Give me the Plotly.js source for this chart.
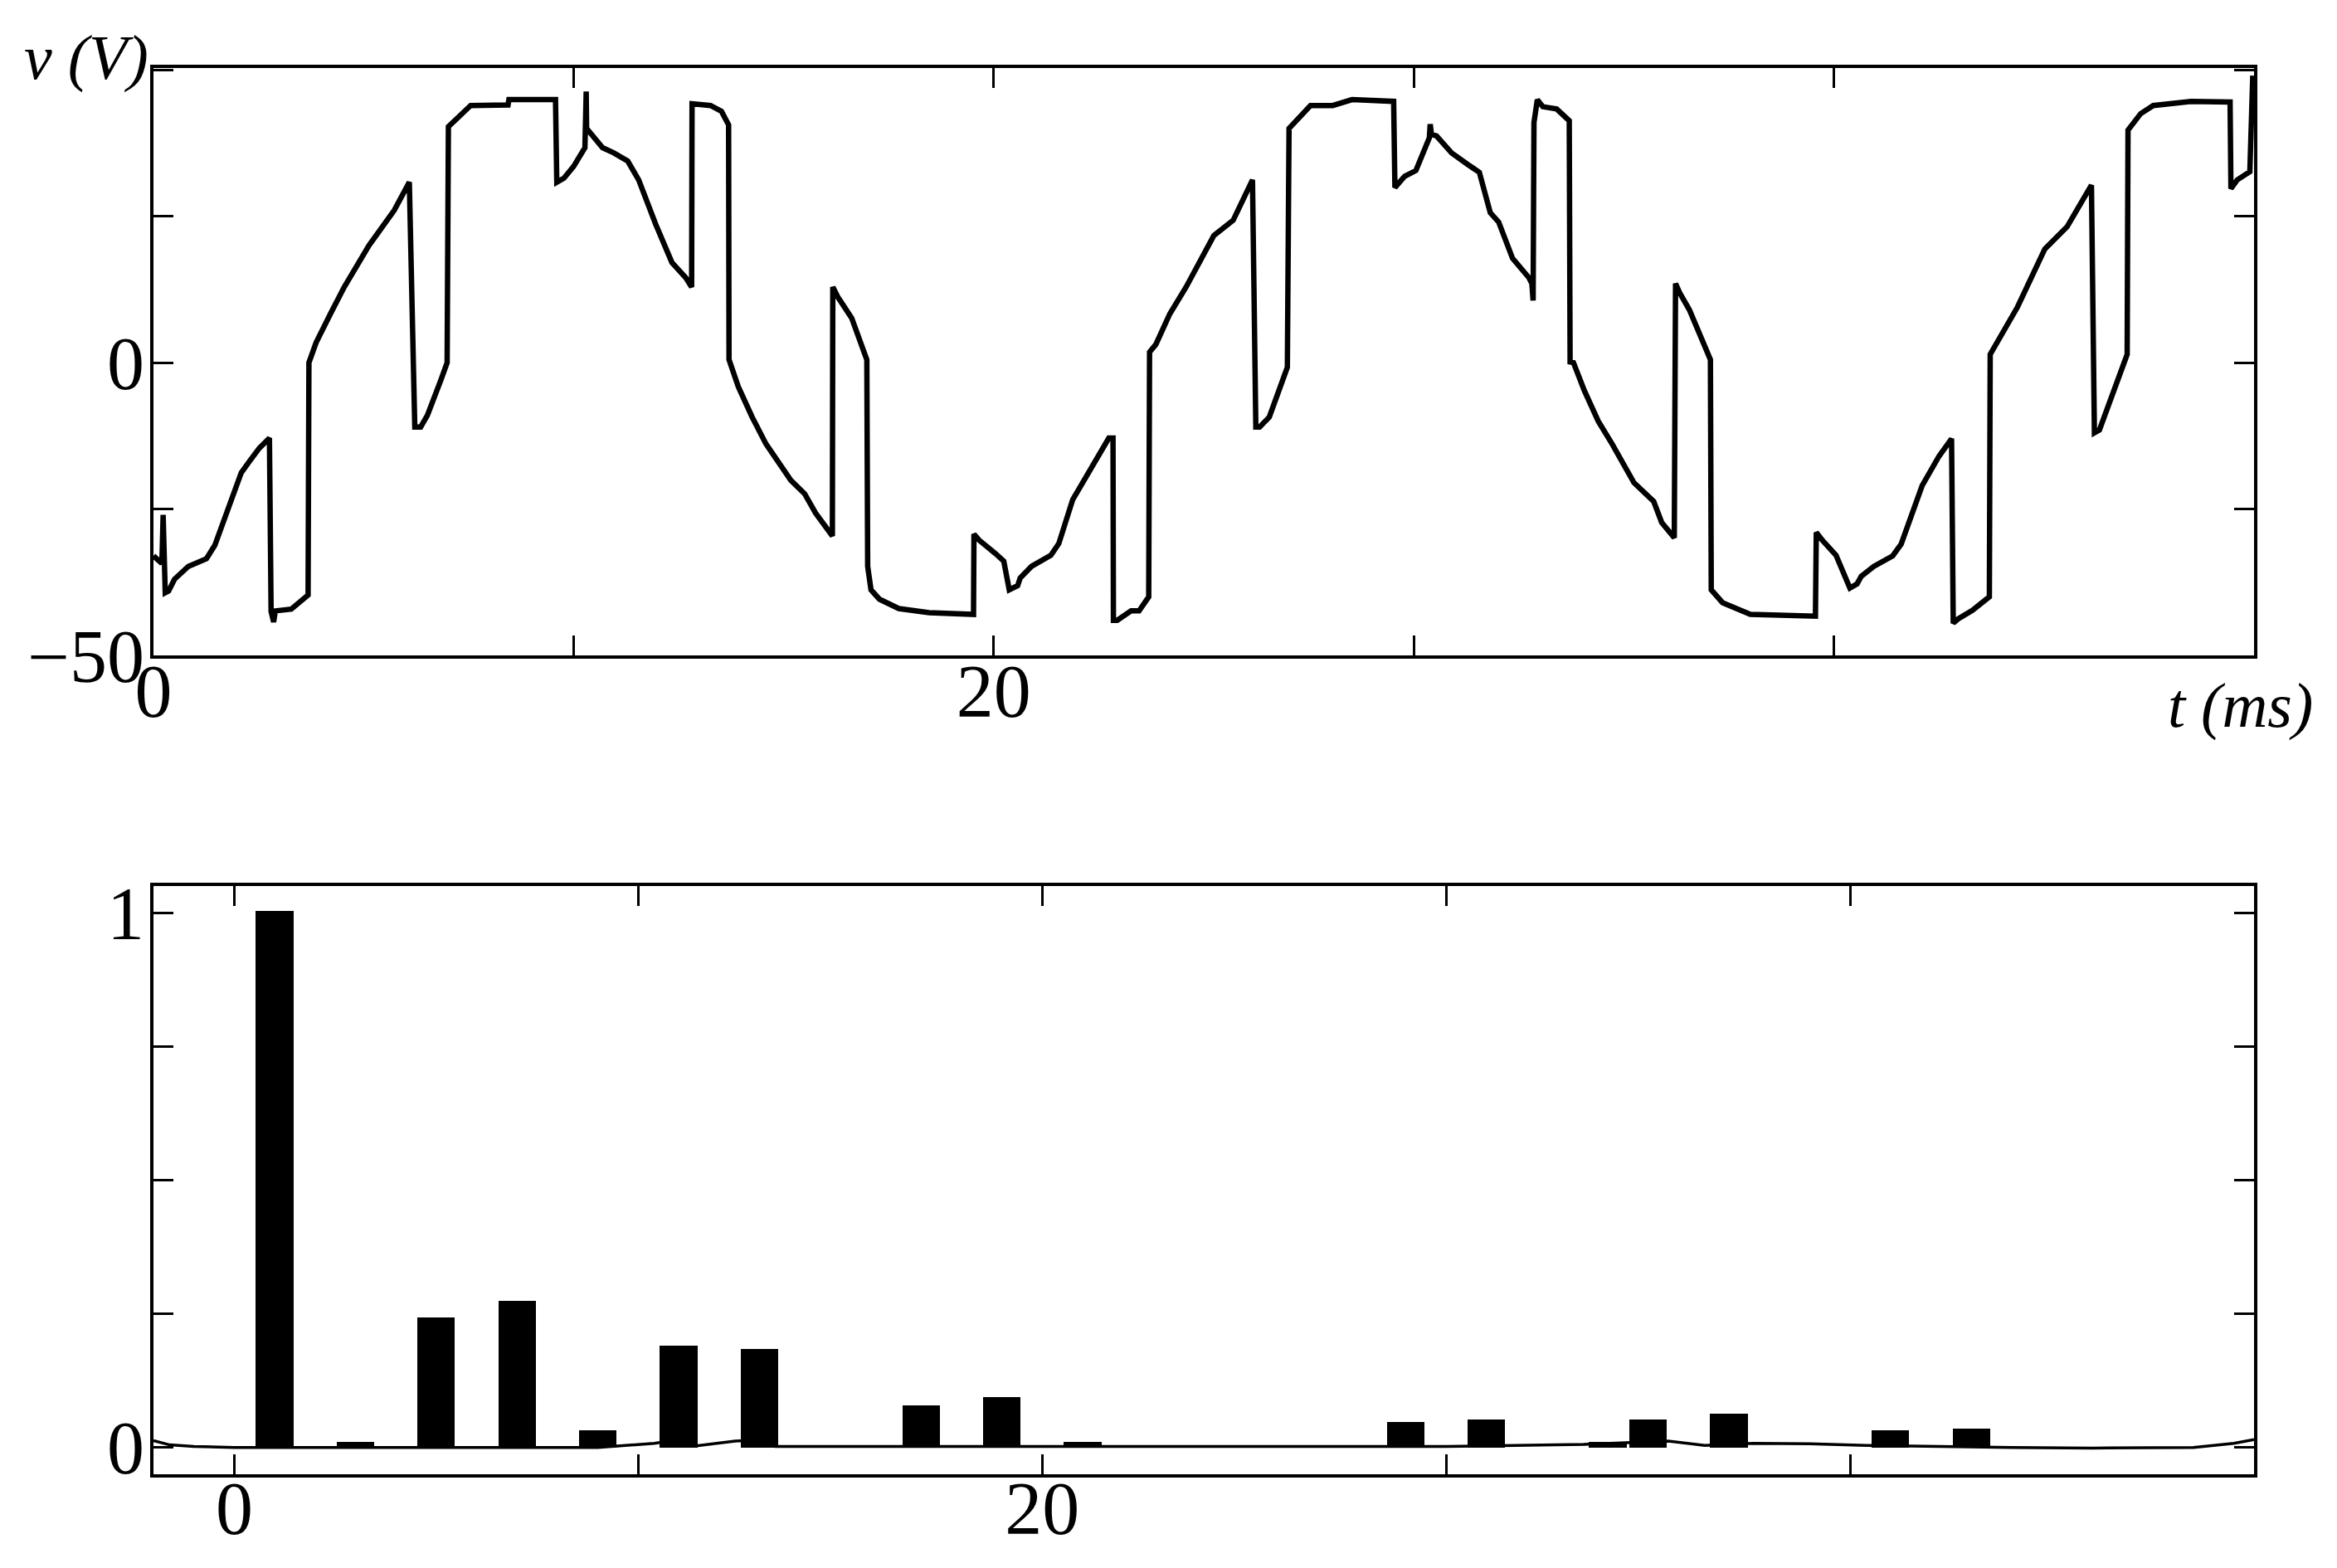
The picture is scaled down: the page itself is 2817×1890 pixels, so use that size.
<!DOCTYPE html>
<html>
<head>
<meta charset="utf-8">
<script src="https://cdn.plot.ly/plotly-3.0.1.min.js"></script>
<style>html,body{margin:0;padding:0;background:#fff;}#chart{width:2817px;height:1890px;}</style>
</head>
<body>
<div id="chart"></div>
<script>
// ---- Top panel: voltage waveform v (V) vs time t (ms) ----
const timeMs = [
  0, 0.20, 0.23, 0.28, 0.36, 0.50, 0.83, 1.09, 1.26, 1.46, 1.89, 2.09, 2.28, 2.52, 2.76,
  2.80, 2.86, 2.90, 3.28, 3.68, 3.70, 3.87, 4.21, 4.54, 5.13, 5.46, 5.73, 6.09,
  6.22, 6.36, 6.52, 6.85, 6.99, 7.02, 7.55, 8.44, 8.46, 9.57, 9.60, 9.77, 10.00, 10.27,
  10.30, 10.31, 10.69, 10.96, 11.29, 11.55, 11.95, 12.34, 12.67, 12.81, 12.82, 13.26, 13.52, 13.69,
  13.70, 13.92, 14.25, 14.58, 15.17, 15.50, 15.76, 16.16, 16.17, 16.29, 16.62, 16.98,
  17.00, 17.08, 17.28, 17.74, 18.46, 19.52, 19.53, 19.65, 20.04,
  20.24, 20.37, 20.57, 20.63, 20.90, 21.36, 21.55, 21.88, 22.01, 22.48, 22.74, 22.84,
  22.85, 22.94, 23.27, 23.46, 23.69, 23.71, 23.86, 24.19, 24.58, 25.24, 25.70, 26.16,
  26.24, 26.33, 26.56, 26.99, 27.03, 27.54, 28.07, 28.53, 29.52, 29.55, 29.78, 30.05,
  30.37, 30.39, 30.42, 30.54, 30.70, 30.90, 31.29, 31.56, 31.82, 32.02, 32.35, 32.74, 32.81, 32.84,
  32.86, 32.94, 33.07, 33.40, 33.70, 33.72, 33.80, 34.06, 34.39, 34.72, 35.24, 35.71, 35.90, 36.20,
  36.23, 36.33, 36.56, 36.89, 37.06, 37.08, 37.35, 38.01, 39.56, 39.58, 39.72, 40.05,
  40.38, 40.55, 40.65, 40.95, 41.40, 41.60, 41.95, 42.10, 42.50, 42.80,
  42.84, 42.95, 43.30, 43.70, 43.72, 44.37, 45.02, 45.55, 46.13,
  46.20, 46.32, 46.50, 46.72, 46.98, 47.00, 47.30, 47.60, 48.50, 49.43, 49.45, 49.60, 49.90, 49.97
];
const voltageV = [
  -33, -34.3, -26, -39.3, -39, -37, -34.8, -33.9, -33.5, -31.2, -23, -18.8, -16.9, -14.6, -12.9,
  -42.5, -44.3, -42.4, -42.1, -39.7, 0, 3.4, 8.3, 12.9, 20, 23.3, 26, 30.8,
  -11, -11, -9, -2.8, 0, 40.3, 43.9, 44.0, 44.9, 44.9, 30.8, 31.5, 33.5, 36.7,
  46.3, 40, 36.7, 35.8, 34.4, 31.2, 23.7, 17.1, 14.5, 12.9, 44.2, 43.9, 42.9, 40.6,
  0.5, -4.1, -9.3, -13.9, -20.1, -22.4, -25.7, -29.6, 12.9, 11.2, 7.6, 0.5,
  -34.8, -38.8, -40.4, -42, -42.7, -43, -29.3, -30.3, -32.6,
  -33.9, -38.8, -38.1, -36.8, -34.8, -32.9, -30.9, -23.4, -21.8, -15.9, -12.9, -12.9,
  -44, -44, -42.4, -42.4, -40, 1.8, 3.1, 8.3, 12.9, 21.7, 24.3, 31.2,
  -11, -11, -9.3, -0.8, 40, 43.9, 43.9, 44.9, 44.6, 29.9, 31.8, 32.8,
  38.4, 40.7, 39, 38.7, 37.4, 35.8, 33.8, 32.5, 25.6, 24, 17.8, 14.5, 13.5, 10.6,
  41, 44.9, 43.7, 43.3, 41.3, 0.1, 0, -4.8, -10, -13.9, -20.5, -23.7, -27.3, -29.9,
  13.5, 11.9, 9, 3.1, 0.5, -38.8, -41, -43, -43.3, -29, -30.3, -32.9,
  -38.5, -37.8, -36.5, -34.8, -33, -31, -23.5, -21, -16, -13,
  -44.5, -43.8, -42.3, -40, 1.4, 9.5, 19.4, 23.2, 30.3,
  -12, -11.5, -8, -3.3, 1.4, 39.7, 42.5, 43.9, 44.6, 44.5, 29.7, 31.2, 32.6, 49
];
const topXTicks = [0, 10, 20, 30, 40];
const topXTickText = ['0', '', '20', '', ''];
const topYTicks = [-50, -25, 0, 25, 50];
const topYTickText = ['\u221250', '', '0', '', ''];

// ---- Bottom panel: harmonic spectrum ----
const harmonicOrder = [1, 3, 5, 7, 9, 11, 13, 17, 19, 21, 29, 31, 34, 35, 37, 41, 43];
const harmonicAmp = [1.005, 0.011, 0.244, 0.274, 0.033, 0.191, 0.185, 0.079, 0.095, 0.010,
                     0.048, 0.053, 0.011, 0.053, 0.063, 0.032, 0.036];
const floorX = [-2, -1.6, -1, 0, 9, 9.6, 10.4, 10.6, 11.4, 12.4, 12.6, 13.4, 30, 33.4, 35.5, 36.4, 37.6, 39, 40.4, 44, 46, 48.5, 49.5, 50];
const floorY = [0.013, 0.005, 0.002, 0, 0, 0.003, 0.008, 0.01, 0.003, 0.012, 0.013, 0.002, 0.002, 0.006, 0.012, 0.004, 0.008, 0.007, 0.004, 0.0, -0.001, 0.0, 0.008, 0.015];
const botXTicks = [0, 10, 20, 30, 40];
const botXTickText = ['0', '', '20', '', ''];
const botYTicks = [0, 0.25, 0.5, 0.75, 1];
const botYTickText = ['0', '', '', '', '1'];

const FONT = 'Liberation Serif, Times New Roman, serif';
const W = 2817, H = 1890;

const traces = [
  {x: timeMs, y: voltageV, type: 'scatter', mode: 'lines', xaxis: 'x', yaxis: 'y',
   line: {color: '#000', width: 6.5}, hoverinfo: 'skip'},
  {x: floorX, y: floorY, type: 'scatter', mode: 'lines', xaxis: 'x2', yaxis: 'y2',
   line: {color: '#000', width: 3.5}, hoverinfo: 'skip'},
  {x: harmonicOrder, y: harmonicAmp, type: 'bar', xaxis: 'x2', yaxis: 'y2', width: 0.93,
   marker: {color: '#000', line: {width: 0}}, hoverinfo: 'skip'}
];

const axisCommon = {
  showline: true, linecolor: '#000', linewidth: 4, mirror: 'ticks',
  ticks: 'inside', ticklen: 24, tickwidth: 3, tickcolor: '#000',
  showgrid: false, zeroline: false, tickmode: 'array',
  tickfont: {family: FONT, size: 90, color: '#000'}
};

const layout = {
  width: W, height: H,
  margin: {l: 0, r: 0, t: 0, b: 0},
  paper_bgcolor: '#fff', plot_bgcolor: '#fff',
  showlegend: false, bargap: 0,
  xaxis: Object.assign({}, axisCommon, {domain: [185 / W, 2717 / W], range: [0, 50], anchor: 'y',
    tickvals: topXTicks, ticktext: topXTickText, ticklabelstandoff: -38}),
  yaxis: Object.assign({}, axisCommon, {domain: [1 - 790 / H, 1 - 82 / H], range: [-50, 50.3], anchor: 'x',
    tickvals: topYTicks, ticktext: topYTickText, ticklabelstandoff: -11}),
  xaxis2: Object.assign({}, axisCommon, {domain: [185 / W, 2717 / W], range: [-2, 50], anchor: 'y2',
    tickvals: botXTicks, ticktext: botXTickText, ticklabelstandoff: -40}),
  yaxis2: Object.assign({}, axisCommon, {domain: [1 - 1777 / H, 1 - 1068 / H], range: [-0.05, 1.051], anchor: 'x2',
    tickvals: botYTicks, ticktext: botYTickText, ticklabelstandoff: -11}),
  annotations: [
    {text: '<i>v (V)</i>', xref: 'paper', yref: 'paper', x: 181 / W, y: 1 - 70 / H,
     xanchor: 'right', yanchor: 'middle', showarrow: false,
     font: {family: FONT, size: 76, color: '#000'}},
    {text: '<i>t (ms)</i>', xref: 'paper', yref: 'paper', x: 2790 / W, y: 1 - 850 / H,
     xanchor: 'right', yanchor: 'middle', showarrow: false,
     font: {family: FONT, size: 76, color: '#000'}}
  ]
};

Plotly.newPlot('chart', traces, layout, {displayModeBar: false, staticPlot: true});
</script>
</body>
</html>
